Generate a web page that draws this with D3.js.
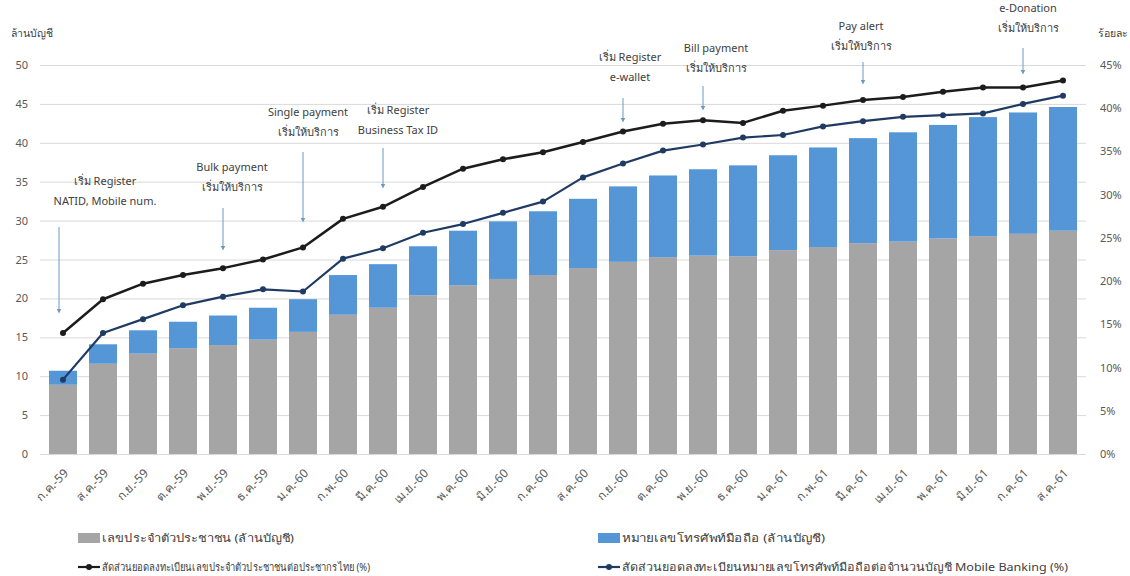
<!DOCTYPE html>
<html><head><meta charset="utf-8">
<script src="https://cdn.jsdelivr.net/npm/d3@7"></script>
<style>
body{margin:0;background:#fff;}
svg{display:block;font-family:"Noto Sans","DejaVu Sans",sans-serif;}
</style></head><body>
<svg id="c" width="1130" height="576"></svg>
<script>
const months = ["ก.ค.-59","ส.ค.-59","ก.ย.-59","ต.ค.-59","พ.ย.-59","ธ.ค.-59","ม.ค.-60","ก.พ.-60","มี.ค.-60","เม.ย.-60","พ.ค.-60","มิ.ย.-60","ก.ค.-60","ส.ค.-60","ก.ย.-60","ต.ค.-60","พ.ย.-60","ธ.ค.-60","ม.ค.-61","ก.พ.-61","มี.ค.-61","เม.ย.-61","พ.ค.-61","มิ.ย.-61","ก.ค.-61","ส.ค.-61"];
// เลขประจำตัวประชาชน (ล้านบัญชี)
const natid = [8.9,11.6,12.9,13.6,14.0,14.7,15.7,17.9,18.8,20.4,21.7,22.5,23.0,23.9,24.7,25.3,25.5,25.4,26.2,26.6,27.1,27.3,27.7,28.0,28.3,28.7];
// total accounts (top of stack)
const totals = [10.7,14.1,15.9,17.0,17.8,18.8,19.9,23.0,24.4,26.7,28.7,29.9,31.2,32.8,34.4,35.8,36.6,37.1,38.4,39.4,40.6,41.35,42.3,43.3,43.9,44.6];
const mobile = totals.map((t,i)=>+(t-natid[i]).toFixed(2));
// ratios (%)
const natidPct = [14.0,17.9,19.7,20.7,21.5,22.5,23.9,27.2,28.6,30.9,33.0,34.1,34.9,36.1,37.3,38.2,38.6,38.3,39.7,40.3,40.95,41.3,41.9,42.4,42.4,43.2];
const mobilePct = [8.6,14.0,15.6,17.2,18.2,19.05,18.8,22.6,23.8,25.6,26.6,27.9,29.2,32.0,33.6,35.1,35.8,36.6,36.9,37.9,38.5,39.0,39.2,39.4,40.5,41.45];
const leftTicks = [0,5,10,15,20,25,30,35,40,45,50];
const rightTicks = [0,5,10,15,20,25,30,35,40,45];
const annotations = [
  {i:0, l1:"เริ่ม Register", l2:"NATID, Mobile num.", tx:105, ty:185, y0:227, y1:311},
  {i:4, l1:"Bulk payment", l2:"เริ่มให้บริการ", tx:232, ty:171, y0:208, y1:248},
  {i:6, l1:"Single payment", l2:"เริ่มให้บริการ", tx:308, ty:116, y0:152, y1:220},
  {i:8, l1:"เริ่ม Register", l2:"Business Tax ID", tx:398, ty:114, y0:148, y1:186},
  {i:14, l1:"เริ่ม Register", l2:"e-wallet", tx:630, ty:61, y0:98, y1:120},
  {i:16, l1:"Bill payment", l2:"เริ่มให้บริการ", tx:716, ty:52, y0:86, y1:108},
  {i:20, l1:"Pay alert", l2:"เริ่มให้บริการ", tx:861, ty:30, y0:62, y1:82},
  {i:24, l1:"e-Donation", l2:"เริ่มให้บริการ", tx:1028, ty:12, y0:48, y1:72}
];

const svg = d3.select("#c");
const X0=43, X1=1083, YT=65, YB=454;
const x = d3.scaleBand().domain(months).range([X0,X1]).paddingInner(0.3).paddingOuter(0.15);
const yL = d3.scaleLinear().domain([0,50]).range([YB,YT]);
const yR = d3.scaleLinear().domain([0,45]).range([YB,YT]);
const txt="#404040";

// grid
svg.append("g").selectAll("line").data(leftTicks).join("line")
  .attr("x1",40).attr("x2",1086).attr("y1",d=>yL(d)+0.5).attr("y2",d=>yL(d)+0.5)
  .attr("stroke","#D9D9D9").attr("stroke-width",1);

// left axis
const gl = svg.append("g").attr("transform","translate(30,0)")
  .call(d3.axisLeft(yL).tickValues(leftTicks).tickSize(0).tickPadding(2));
gl.select(".domain").remove();
gl.selectAll("text").attr("fill","#595959").style("font-size","11px").style("font-family","Noto Sans, sans-serif");
// right axis
const gr = svg.append("g").attr("transform","translate(1098,0)")
  .call(d3.axisRight(yR).tickValues(rightTicks).tickSize(0).tickPadding(2).tickFormat(d=>d+"%"));
gr.select(".domain").remove();
gr.selectAll("text").attr("fill","#595959").style("font-size","11px").style("font-family","Noto Sans, sans-serif");

// axis titles
svg.append("text").attr("x",11).attr("y",37).text("ล้านบัญชี").attr("fill",txt).style("font-size","10.5px");
svg.append("text").attr("x",1128).attr("y",37).attr("text-anchor","end").text("ร้อยละ").attr("fill",txt).style("font-size","10.5px");

// bars
const bw=x.bandwidth();
svg.append("g").selectAll("rect").data(months).join("rect")
  .attr("x",d=>x(d)).attr("width",bw)
  .attr("y",(d,i)=>yL(natid[i])).attr("height",(d,i)=>YB-yL(natid[i]))
  .attr("fill","#A5A5A5");
svg.append("g").selectAll("rect").data(months).join("rect")
  .attr("x",d=>x(d)).attr("width",bw)
  .attr("y",(d,i)=>yL(natid[i]+mobile[i])).attr("height",(d,i)=>yL(natid[i])-yL(natid[i]+mobile[i]))
  .attr("fill","#5596D6");

// x labels
svg.append("g").selectAll("text").data(months).join("text")
  .attr("transform",d=>`translate(${x(d)+bw/2+6},${YB+20}) rotate(-45)`)
  .attr("text-anchor","end").attr("fill","#595959").style("font-size","12px").text(d=>d);

// lines
const cx = d=>x(d)+bw/2;
function drawLine(vals,color,w){
  const line=d3.line().x((d,i)=>cx(months[i])).y(d=>yR(d));
  svg.append("path").datum(vals).attr("d",line).attr("fill","none").attr("stroke",color).attr("stroke-width",w).attr("stroke-linejoin","round");
  svg.append("g").selectAll("circle").data(vals).join("circle")
    .attr("cx",(d,i)=>cx(months[i])).attr("cy",d=>yR(d)).attr("r",3).attr("fill",color);
}
drawLine(natidPct,"#1c1c1c",2.5);
drawLine(mobilePct,"#1F3B63",2.2);

// annotations
const defs=svg.append("defs");
defs.append("marker").attr("id","ah").attr("viewBox","0 0 10 10").attr("refX",5).attr("refY",5)
  .attr("markerWidth",5).attr("markerHeight",5).attr("orient","auto")
  .append("path").attr("d","M0,0 L10,5 L0,10 z").attr("fill","#6D98C6");
const ga=svg.append("g");
annotations.forEach(a=>{
  const ax = a.i===0 ? cx(months[0])-4 : cx(months[a.i]);
  ga.append("text").attr("x",a.tx).attr("y",a.ty).attr("text-anchor","middle").attr("fill",txt).style("font-size","11px").text(a.l1);
  ga.append("text").attr("x",a.tx).attr("y",a.ty+20).attr("text-anchor","middle").attr("fill",txt).style("font-size","11px").text(a.l2);
  ga.append("line").attr("x1",ax).attr("x2",ax).attr("y1",a.y0).attr("y2",a.y1)
    .attr("stroke","#6D98C6").attr("stroke-width",1).attr("marker-end","url(#ah)");
});

// legend
const lg=svg.append("g").style("font-size","11px");
lg.append("rect").attr("x",78).attr("y",533).attr("width",22).attr("height",10).attr("fill","#A5A5A5");
lg.append("text").attr("x",102).attr("y",542).attr("fill",txt).attr("textLength",192).attr("lengthAdjust","spacingAndGlyphs").text("เลขประจำตัวประชาชน (ล้านบัญชี)");
lg.append("rect").attr("x",598).attr("y",533).attr("width",22).attr("height",10).attr("fill","#5596D6");
lg.append("text").attr("x",622).attr("y",542).attr("fill",txt).attr("textLength",203).attr("lengthAdjust","spacingAndGlyphs").text("หมายเลขโทรศัพท์มือถือ (ล้านบัญชี)");
[[78,"#1c1c1c","สัดส่วนยอดลงทะเบียนเลขประจำตัวประชาชนต่อประชากรไทย (%)",268],[598,"#1F3B63","สัดส่วนยอดลงทะเบียนหมายเลขโทรศัพท์มือถือต่อจำนวนบัญชี Mobile Banking (%)",446]].forEach(([lx,c,t,tl])=>{
  lg.append("line").attr("x1",lx).attr("x2",lx+22).attr("y1",567).attr("y2",567).attr("stroke",c).attr("stroke-width",2.2);
  lg.append("circle").attr("cx",lx+11).attr("cy",567).attr("r",3).attr("fill",c);
  lg.append("text").attr("x",lx+24).attr("y",571).attr("fill",txt).attr("textLength",tl).attr("lengthAdjust","spacingAndGlyphs").text(t);
});
</script></body></html>
